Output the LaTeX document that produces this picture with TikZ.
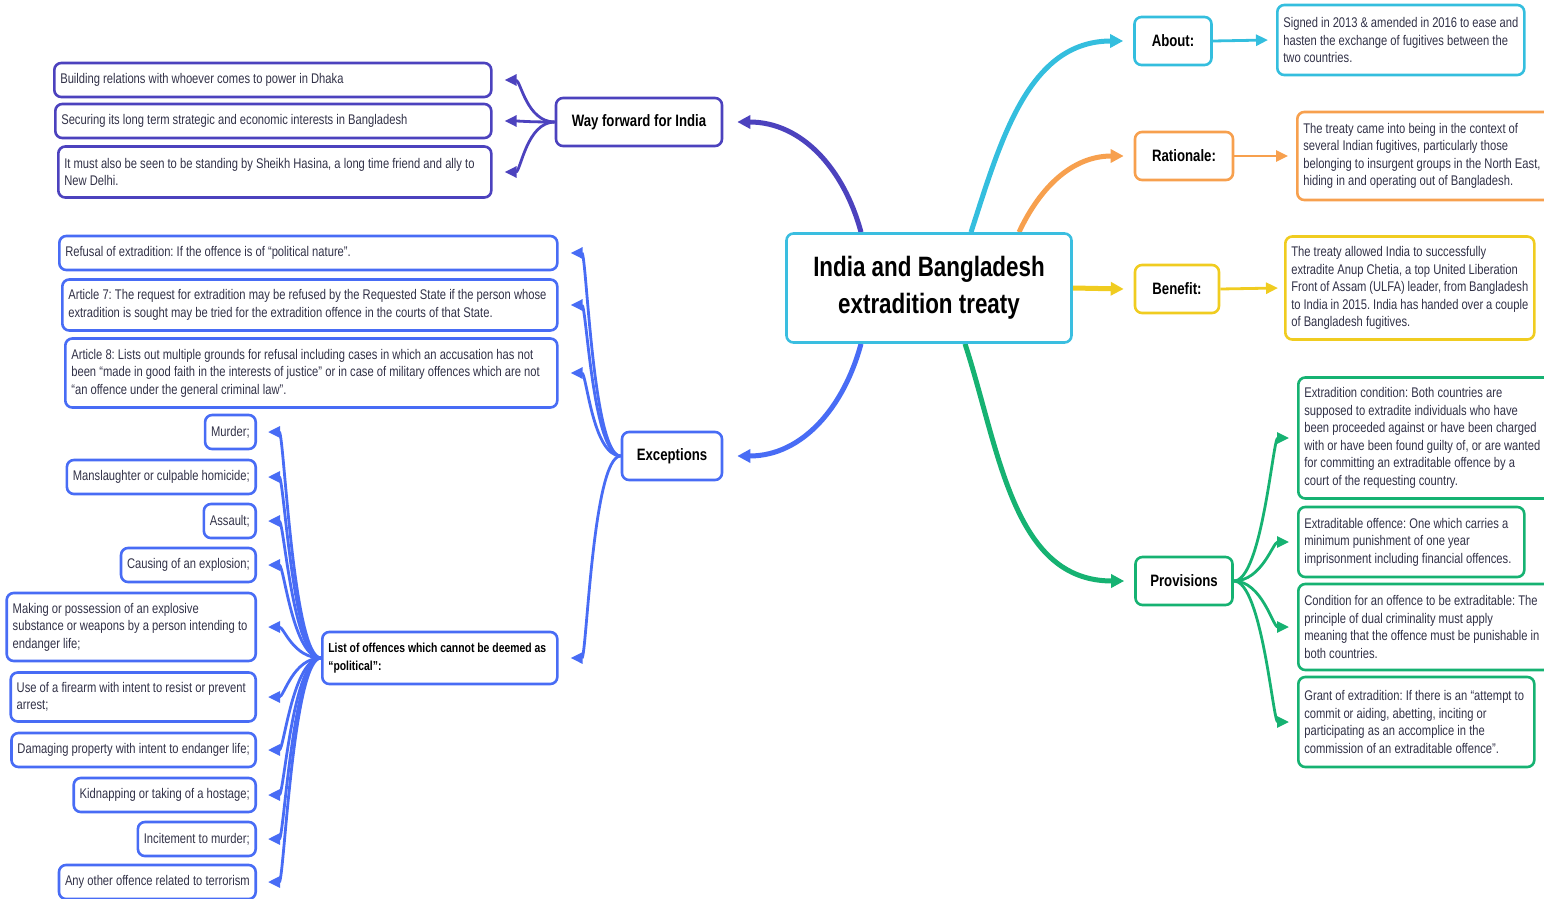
\documentclass[tikz,border=0pt]{standalone}
\usepackage{fontspec}
\setmainfont{Liberation Sans}[FakeStretch=0.8]
\usetikzlibrary{arrows.meta}
\pgfdeclarelayer{background}
\pgfsetlayers{background,main}
\frenchspacing
\hyphenpenalty=10000
\exhyphenpenalty=10000

\definecolor{treatycol}{RGB}{58,190,224}
\definecolor{wfcol}{RGB}{76,66,190}
\definecolor{exccol}{RGB}{72,108,245}
\definecolor{aboutcol}{RGB}{52,190,222}
\definecolor{ratcol}{RGB}{247,160,78}
\definecolor{bencol}{RGB}{240,204,32}
\definecolor{provcol}{RGB}{22,178,114}
\definecolor{textcol}{RGB}{50,50,72}

\begin{document}
\begin{tikzpicture}[x=1pt, y=1pt,
	leaf/.style={draw=#1, line width=2.6pt, rounded corners=7pt, fill=white,
		inner xsep=6pt, inner ysep=5pt, minimum height=34pt, align=left,
		text=textcol, font=\fontsize{14}{17.5}\selectfont,
		execute at begin node={\spaceskip=0pt\xspaceskip=0pt}},
	topic/.style={leaf=#1, minimum height=48pt, inner xsep=12pt, align=center,
		text=black, font=\fontsize{16.5}{20}\selectfont\bfseries},
	treatybox/.style={leaf=treatycol, minimum width=285pt, minimum height=109pt,
		align=center, text=black, font=\fontsize{28}{37}\selectfont\bfseries},
	branch/.style={draw=#1, line width=5pt, -{Triangle[length=13pt,width=13pt]}},
	twig/.style={draw=#1, line width=2.8pt, -{Triangle[length=12pt,width=11pt]}},
	fan/.style={out=#1, in=#1+180, out distance=28pt, in distance=16pt}]

\useasboundingbox (0,0) rectangle (1544,-899);

\node[treatybox] (treaty) at (929,-288) {India and Bangladesh\\extradition treaty};

% topics
\node[topic=wfcol, minimum width=166pt] (wf) at (639,-122) {Way forward for India};
\node[topic=exccol, minimum width=100pt] (exc) at (672,-456) {Exceptions};
\node[topic=aboutcol, minimum width=77pt] (about) at (1173,-41) {About:};
\node[topic=ratcol, minimum width=98pt] (rat) at (1184,-156) {Rationale:};
\node[topic=bencol, minimum width=84pt] (ben) at (1177,-289) {Benefit:};
\node[topic=provcol, minimum width=97pt] (prov) at (1184,-581) {Provisions};

% way forward
\node[leaf=wfcol, anchor=west, text width=425pt] (wf1) at (53,-80)
	{Building relations with whoever comes to power in Dhaka};
\node[leaf=wfcol, anchor=west, text width=424pt] (wf2) at (54,-121)
	{Securing its long term strategic and economic interests in Bangladesh};
\node[leaf=wfcol, anchor=west, text width=421pt, minimum height=51pt] (wf3) at (57,-172)
	{It must also be seen to be standing by Sheikh Hasina, a long time friend and ally to\\New Delhi.};

% exceptions
\node[leaf=exccol, anchor=west, text width=486pt] (ex1) at (58,-253)
	{Refusal of extradition: If the offence is of “political nature”.};
\node[leaf=exccol, anchor=west, text width=483pt, minimum height=51pt] (ex2) at (61,-305)
	{Article 7: The request for extradition may be refused by the Requested State if the person whose\\extradition is sought may be tried for the extradition offence in the courts of that State.};
\node[leaf=exccol, anchor=west, text width=480pt, minimum height=69pt] (ex3) at (64,-373)
	{Article 8: Lists out multiple grounds for refusal including cases in which an accusation has not\\been “made in good faith in the interests of justice” or in case of military offences which are not\\“an offence under the general criminal law”.};
\node[leaf=exccol, anchor=west, text width=223pt, minimum height=52pt, text=black,
	font=\fontsize{13}{17.5}\selectfont\bfseries] (lst) at (321,-658)
	{List of offences which cannot be deemed as\\“political”:};

% offences
\foreach \n/\y/\t in {o1/432/Murder;, o2/477/Manslaughter or culpable homicide;,
		o3/521/Assault;, o4/565/Causing of an explosion;,
		o7/750/Damaging property with intent to endanger life;,
		o8/795/Kidnapping or taking of a hostage;, o9/839/Incitement to murder;,
		o10/882/Any other offence related to terrorism}
	\node[leaf=exccol, anchor=east] (\n) at (257,-\y) {\t};
\node[leaf=exccol, anchor=east, text width=237pt, minimum height=68pt] (o5) at (257,-627)
	{Making or possession of an explosive\\substance or weapons by a person intending to\\endanger life;};
\node[leaf=exccol, anchor=east, text width=233pt, minimum height=49pt] (o6) at (257,-697)
	{Use of a firearm with intent to resist or prevent\\arrest;};

% right side
\node[leaf=aboutcol, anchor=west, text width=235pt, minimum height=70pt] (aboutd) at (1276,-40)
	{Signed in 2013 \& amended in 2016 to ease and\\hasten the exchange of fugitives between the\\two countries.};
\node[leaf=ratcol, anchor=west, text width=244pt, minimum height=88pt] (ratd) at (1296,-156)
	{The treaty came into being in the context of\\several Indian fugitives, particularly those\\belonging to insurgent groups in the North East,\\hiding in and operating out of Bangladesh.};
\node[leaf=bencol, anchor=west, text width=237pt, minimum height=103pt] (bend) at (1284,-288)
	{The treaty allowed India to successfully\\extradite Anup Chetia, a top United Liberation\\Front of Assam (ULFA) leader, from Bangladesh\\to India in 2015. India has handed over a couple\\of Bangladesh fugitives.};

% provisions
\node[leaf=provcol, anchor=west, text width=244pt, minimum height=121pt] (pv1) at (1297,-438)
	{Extradition condition: Both countries are\\supposed to extradite individuals who have\\been proceeded against or have been charged\\with or have been found guilty of, or are wanted\\for committing an extraditable offence by a\\court of the requesting country.};
\node[leaf=provcol, anchor=west, text width=214pt, minimum height=70pt] (pv2) at (1297,-542)
	{Extraditable offence: One which carries a\\minimum punishment of one year\\imprisonment including financial offences.};
\node[leaf=provcol, anchor=west, text width=244pt, minimum height=86pt] (pv3) at (1297,-627)
	{Condition for an offence to be extraditable: The\\principle of dual criminality must apply\\meaning that the offence must be punishable in\\both countries.};
\node[leaf=provcol, anchor=west, text width=224pt, minimum height=90pt] (pv4) at (1297,-722)
	{Grant of extradition: If there is an “attempt to\\commit or aiding, abetting, inciting or\\participating as an accomplice in the\\commission of an extraditable offence”.};

\begin{pgfonlayer}{background}
	\draw[branch=wfcol] ([xshift=-68pt]treaty.north) to[out=105, in=0] ([xshift=14pt]wf.east);
	\draw[branch=exccol] ([xshift=-68pt]treaty.south) to[out=-105, in=0] ([xshift=14pt]exc.east);
	\draw[branch=aboutcol] ([xshift=42pt]treaty.north) to[out=72, in=180] ([xshift=-10pt]about.west);
	\draw[branch=ratcol] ([xshift=90pt]treaty.north) to[out=65, in=180] ([xshift=-10pt]rat.west);
	\draw[branch=bencol] (treaty.east) -- ([xshift=-10pt]ben.west);
	\draw[branch=provcol] ([xshift=36pt]treaty.south) to[out=-72, in=180] ([xshift=-10pt]prov.west);

	\draw[twig=aboutcol] (about.east) -- ([xshift=-8pt]aboutd.west);
	\draw[twig=ratcol] (rat.east) -- ([xshift=-8pt]ratd.west);
	\draw[twig=bencol] (ben.east) -- ([xshift=-6pt]bend.west);

	\foreach \n in {wf1,wf2,wf3}
		\draw[twig=wfcol] (wf.west) to[fan=180] ([xshift=12pt]\n.east);
	\foreach \n in {ex1,ex2,ex3,lst}
		\draw[twig=exccol] (exc.west) to[fan=180] ([xshift=12pt]\n.east);
	\foreach \n in {o1,o2,o3,o4,o5,o6,o7,o8,o9,o10}
		\draw[twig=exccol] (lst.west) to[fan=180] ([xshift=11pt]\n.east);
	\foreach \n in {pv1,pv2,pv3,pv4}
		\draw[twig=provcol] (prov.east) to[fan=0] ([xshift=-8pt]\n.west);
\end{pgfonlayer}
\end{tikzpicture}
\end{document}
